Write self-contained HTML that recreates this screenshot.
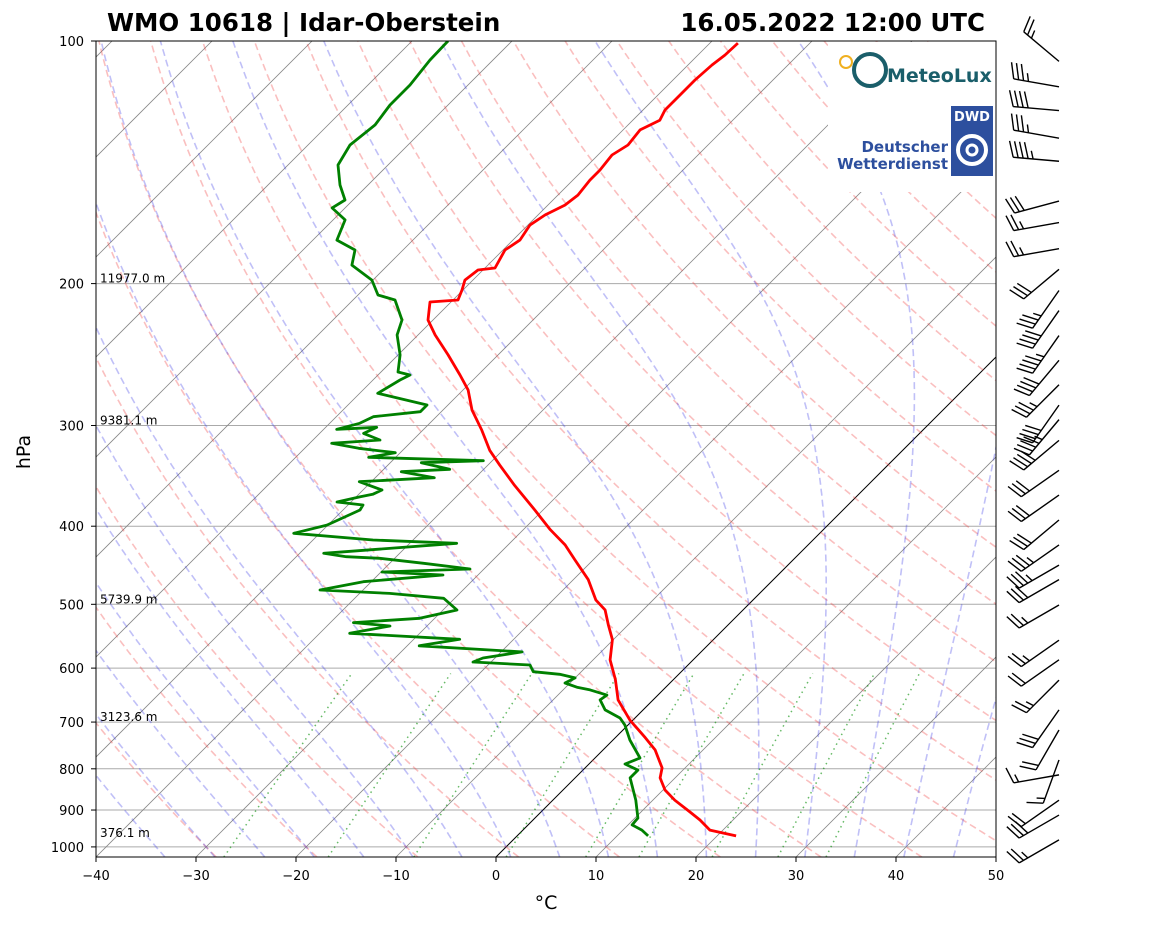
<!DOCTYPE html>
<html><head><meta charset="utf-8"><style>
body{margin:0;background:#fff}
svg{display:block;font-family:"DejaVu Sans","Liberation Sans",sans-serif}
</style></head><body>
<svg id="chart" width="1160" height="925" viewBox="0 0 1160 925" xmlns="http://www.w3.org/2000/svg">
<defs><clipPath id="plotclip"><rect x="96" y="41" width="900" height="816"/></clipPath></defs>
<rect width="1160" height="925" fill="#fff"/>
<text x="107" y="31" font-size="24.5" font-weight="bold">WMO 10618 | Idar-Oberstein</text>
<text x="985" y="31" font-size="24.5" font-weight="bold" text-anchor="end">16.05.2022 12:00 UTC</text>
<g id="bg" clip-path="url(#plotclip)"></g>
<g id="logos">
<rect x="828" y="42" width="168" height="150" fill="#fff"/>
<circle cx="846" cy="62" r="6" fill="none" stroke="#f0b020" stroke-width="2"/>
<circle cx="870" cy="70" r="16" fill="none" stroke="#1a5e6a" stroke-width="4"/>
<text x="887" y="82" font-size="19" font-weight="bold" fill="#1a5e6a">MeteoLux</text>
<rect x="951" y="106" width="42" height="70" fill="#2d4f9e"/>
<text x="972" y="121" font-size="13" font-weight="bold" fill="#fff" text-anchor="middle">DWD</text>
<circle cx="972" cy="150" r="14" fill="none" stroke="#fff" stroke-width="4"/>
<circle cx="972" cy="150" r="5" fill="none" stroke="#fff" stroke-width="3"/>
<text x="948" y="152" font-size="15" font-weight="bold" fill="#2d4f9e" text-anchor="end">Deutscher</text>
<text x="948" y="169" font-size="15" font-weight="bold" fill="#2d4f9e" text-anchor="end">Wetterdienst</text>
</g>
<g id="profiles" clip-path="url(#plotclip)"></g>
<rect x="96" y="41" width="900" height="816" fill="none" stroke="#000" stroke-width="1"/>
<g id="axes"></g>
<g id="barbs"></g>
<text transform="translate(30,452) rotate(-90)" font-size="19" text-anchor="middle">hPa</text>
<text x="546" y="909" font-size="19" text-anchor="middle">°C</text>
</svg>
<script>
// ---- data ----
const tempP=[969,953,926,905,875,850,821,798,758,732,696,657,620,586,553,530,508,494,466,440.5,422,404,382,356,336,322,304,287,271,259.7,245.2,231.6,221.9,210.8,209.6,203.7,198,192.4,191.3,181.7,176.6,169.2,164.4,159.8,155.3,148.8,144.6,138.5,134.6,128.9,125.4,121.8,116.7,111.8,107.1,104.1,100.6];
const tempT=[21.9,18.7,16.7,14.9,12.2,10.2,8.5,7.7,5.2,3.0,-0.3,-3.5,-5.8,-8.3,-10.1,-12,-13.8,-15.7,-18.5,-21.8,-24.3,-27.3,-30.8,-35.3,-38.8,-41.3,-44.1,-47.1,-49.5,-51.8,-55,-58.3,-60.5,-62.1,-59.5,-60.1,-60.8,-60.5,-59,-59.8,-59.3,-59.8,-59.3,-58.3,-58,-58.3,-58.3,-58.6,-58,-58.3,-57.3,-57.8,-57.8,-57.8,-57.6,-57.3,-57.2];
const dewP=[969,953,939,921,875,821,803,789,775.6,737,706,692,676,657,648,638.6,634,626,617,610.7,606.2,594.7,589.6,582.9,572.9,562.9,552.6,543.2,532,526.9,520.4,508.2,491.5,484.6,480,468.7,459.8,455.9,452,444.7,438.4,436.4,432.2,420,416.1,408.2,398.7,381.9,376.5,373.3,367.7,365.1,360.7,352.2,348.2,342.3,340,333.6,331.7,328.5,324.2,320.2,315.6,312.7,306.8,301.5,303.3,298.1,292.5,288.4,282.9,273.6,263.4,259.7,257.5,245.2,231.6,221.9,209.6,206.6,198,189.7,181.7,176.6,166.7,161.1,157.5,150.9,142.5,134.6,127.1,120.1,113.4,105.6,100];
const dewT=[13.1,11.9,10.4,10.3,8.3,5.5,5.5,3.6,4.5,1.7,-0.3,-1.5,-3.8,-5.3,-5.1,-7.3,-8.8,-10.5,-10,-11.9,-14.8,-15.8,-21.8,-21.2,-17.9,-28.8,-25.4,-37.0,-33.7,-37.7,-31.5,-28.6,-31.1,-37.0,-44.3,-40.8,-33.5,-39.9,-31.4,-36.6,-41.5,-45.0,-47.6,-35.3,-44.0,-52.6,-50.1,-48.3,-48.5,-51.4,-49.6,-48.6,-48.1,-51.2,-44.1,-48.0,-43.4,-46.9,-40.9,-52.7,-50.5,-54.6,-57.8,-53.3,-55.6,-54.9,-58.7,-57.0,-56.3,-52.1,-52.1,-58.2,-57.3,-56.8,-58.3,-59.8,-62.1,-63.1,-65.8,-68,-70.1,-73.6,-74.8,-77.6,-78.8,-81.3,-80.8,-82.8,-85,-85.8,-85.3,-85.8,-85.8,-86.3,-86.4];
const barbP=[106,114,122,132,141,158,168,181,192,204,216,232,249,267,283,295,313,341,366,393,422,447,466,501,554,586,621,676,716,780,814,875,913,980];
const barbDir=[310,280,275,280,275,255,260,260,230,215,215,215,220,225,215,220,230,235,235,230,235,240,240,240,235,235,225,215,210,200,260,235,240,240];
const barbSpd=[25,35,40,35,45,30,25,25,30,35,40,45,40,35,40,45,40,30,30,30,35,35,30,25,25,20,25,30,20,15,15,20,30,25];
const yTicks=[100,200,300,400,500,600,700,800,900,1000];
const xTicks=[-40,-30,-20,-10,0,10,20,30,40,50];
const heightP=[200,300,500,700,975];
const heightLbl=["11977.0 m","9381.1 m","5739.9 m","3123.6 m","376.1 m"];
const mixRatios=[0.0004,0.001,0.002,0.004,0.007,0.01,0.016,0.024,0.032];
// ---- scales ----
const NS="http://www.w3.org/2000/svg";
const PBOT=100*Math.exp(816/350);
function yOf(p){return 41+350*Math.log(p/100);}
function xOf(T,p){return 96+(T+40)*10+(857-yOf(p));}
function mk(tag,attrs,parent){const e=document.createElementNS(NS,tag);for(const k in attrs)e.setAttribute(k,attrs[k]);parent.appendChild(e);return e;}
function pathOf(pts){return pts.map((q,i)=>(i?"L":"M")+xOf(q[0],q[1]).toFixed(1)+","+yOf(q[1]).toFixed(1)).join("");}
const bg=document.getElementById("bg"),axes=document.getElementById("axes"),prof=document.getElementById("profiles"),barbs=document.getElementById("barbs");
yTicks.forEach(p=>{const l=mk("line",{x1:96,x2:996,y1:yOf(p),y2:yOf(p),stroke:"#aaa","stroke-width":1},bg);

});
for(let T=-140;T<=50;T+=10){const l=mk("path",{d:pathOf([[T,PBOT],[T,90]]),stroke:T===0?"#000":"#888","stroke-width":T===0?1:0.8,fill:"none"},bg);

}
for(let th=-30;th<=200;th+=10){const pts=[];for(let p=PBOT;p>=95;p-=5){pts.push([(th+273.15)*Math.pow(p/1000,0.2857)-273.15,p]);}
const l=mk("path",{d:pathOf(pts),stroke:"rgba(240,60,60,0.33)","stroke-width":1.6,"stroke-dasharray":"7,4",fill:"none"},bg);

}
function es(Tc){return 6.112*Math.exp(17.67*Tc/(Tc+243.5));}
function dTdp(Tk,p){const e=es(Tk-273.15),rs=0.622*e/(p-e);return (287.04*Tk+2.501e6*rs)/(p*(1005.7+2.501e6*2.501e6*rs*0.622/(287.04*Tk*Tk)));}
for(let t0=-35;t0<=50;t0+=5){let Tk=t0+273.15,p=1000;const up=[[t0,1000]];
while(p>100){const dp=-2;Tk+=dTdp(Tk,p)*dp;p+=dp;up.push([Tk-273.15,p]);}
Tk=t0+273.15;p=1000;const dn=[];while(p<PBOT){Tk+=dTdp(Tk,p)*2;p+=2;dn.unshift([Tk-273.15,p]);}
const l=mk("path",{d:pathOf(dn.concat(up)),stroke:"rgba(60,60,230,0.32)","stroke-width":1.6,"stroke-dasharray":"7,4",fill:"none"},bg);

}
mixRatios.forEach(w=>{const pts=[];for(let p=PBOT;p>=600;p-=10){const e=w*p/(0.622+w),a=Math.log(e/6.112);pts.push([243.5*a/(17.67-a),p]);}
const l=mk("path",{d:pathOf(pts),stroke:"rgba(0,140,0,0.6)","stroke-width":1.5,"stroke-dasharray":"1.5,4",fill:"none"},bg);

});
const tl=mk("path",{d:pathOf(tempT.map((t,i)=>[t,tempP[i]])),stroke:"#f00","stroke-width":2.8,fill:"none","stroke-linejoin":"round"},prof);


const dl=mk("path",{d:pathOf(dewT.map((t,i)=>[t,dewP[i]])),stroke:"#008000","stroke-width":2.8,fill:"none","stroke-linejoin":"round"},prof);


heightP.forEach((p,i)=>{const t=mk("text",{x:100,y:yOf(p)-1,"font-size":12},axes);t.textContent=heightLbl[i];

});
yTicks.forEach(p=>{const y=yOf(p);mk("line",{x1:91,x2:96,y1:y,y2:y,stroke:"#000"},axes);
const t=mk("text",{x:84,y:y+5,"font-size":13,"text-anchor":"end"},axes);t.textContent=p;

});
xTicks.forEach(T=>{const x=96+(T+40)*10;mk("line",{x1:x,x2:x,y1:857,y2:862,stroke:"#000"},axes);
const t=mk("text",{x:x,y:880,"font-size":13,"text-anchor":"middle"},axes);t.textContent=(T<0?"\u2212"+(-T):T);

});
barbP.forEach((p,i)=>{const y=yOf(p),x=1059,a=barbDir[i]*Math.PI/180;const dx=Math.sin(a),dy=-Math.cos(a);
const L=46,tx=x+dx*L,ty=y+dy*L;const g=mk("g",{stroke:"#000","stroke-width":1.4,fill:"none"},barbs);


mk("line",{x1:x,y1:y,x2:tx,y2:ty},g);
let s=barbSpd[i],k=0;const px=-dy,py=dx;
while(s>=10){const bx=tx-dx*k*5,by=ty-dy*k*5;mk("line",{x1:bx,y1:by,x2:bx+px*16+dx*5,y2:by+py*16+dy*5},g);s-=10;k++;}
if(s>=5){if(k===0)k=1;const bx=tx-dx*k*5,by=ty-dy*k*5;mk("line",{x1:bx,y1:by,x2:bx+px*8+dx*2.5,y2:by+py*8+dy*2.5},g);}
});
</script>
</body></html>
